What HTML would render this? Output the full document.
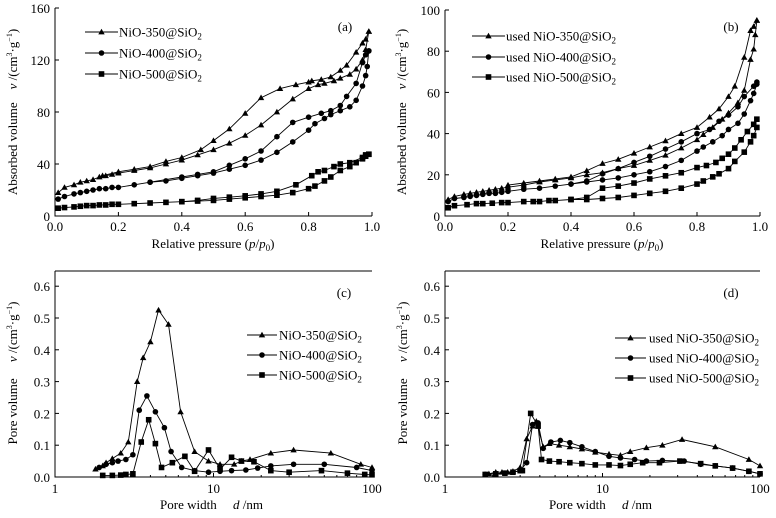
<!DOCTYPE html>
<html><head><meta charset="utf-8"><style>
body{margin:0;background:#fff;}
svg{display:block;font-family:"Liberation Serif",serif;}
</style></head><body>
<svg id="s" width="776" height="518" viewBox="0 0 776 518" xmlns="http://www.w3.org/2000/svg"></svg>
<script>
const S=document.getElementById('s');let h='';
function P(pts,fx,fy){return pts.map(p=>fx(p[0]).toFixed(1)+','+fy(p[1]).toFixed(1)).join(' ');}
function mk(type,x,y){
 if(type==0)return `<polygon points="${x},${y-3.2} ${x-3.2},${y+2.4} ${x+3.2},${y+2.4}" fill="#000"/>`;
 if(type==1)return `<circle cx="${x}" cy="${y}" r="2.8" fill="#000"/>`;
 return `<rect x="${x-2.8}" y="${y-2.8}" width="5.6" height="5.6" fill="#000"/>`;}
function series(pts,fx,fy,t){h+=`<polyline points="${P(pts,fx,fy)}" fill="none" stroke="#000" stroke-width="0.9"/>`;pts.forEach(p=>h+=mk(t,fx(p[0]),fy(p[1])));}
function txt(x,y,s,a,sz){h+=`<text x="${x}" y="${y}" font-size="${sz||13}" text-anchor="${a||'middle'}">${s}</text>`;}
function leg(x0,x1,tx,ys,labels){labels.forEach((l,i)=>{h+=`<line x1="${x0}" y1="${ys[i]}" x2="${x1}" y2="${ys[i]}" stroke="#000" stroke-width="0.9"/>`;h+=mk(i,(x0+x1)/2,ys[i]);txt(tx,ys[i]+4.5,l,'start',13);});}
function axes(x0,x1,yTop,yBot,top){h+=`<polyline points="${x0},${yTop} ${x0},${yBot} ${x1},${yBot}" fill="none" stroke="#000" stroke-width="1"/>`;if(top)h+=`<line x1="${x0}" y1="${yTop}" x2="${x1}" y2="${yTop}" stroke="#000" stroke-width="1"/>`;}
const sio='@SiO<tspan font-size="9" dy="3">2</tspan>';
// Panel A
{const fx=x=>55+x*317,fy=v=>216-v*1.3;axes(55,372,8,216,false);
for(let i=0;i<=5;i++){let x=fx(i*0.2);h+=`<line x1="${x}" y1="216" x2="${x}" y2="212" stroke="#000"/>`;txt(x,231,(i*0.2).toFixed(1));}
for(let v=0;v<=160;v+=40){let y=fy(v);h+=`<line x1="55" y1="${y}" x2="59" y2="${y}" stroke="#000"/>`;txt(50,y+5,v,'end');}
series([[0.01,18],[0.03,22],[0.06,24],[0.08,26],[0.1,27],[0.12,28],[0.14,30],[0.16,31],[0.18,32],[0.2,33],[0.25,35],[0.3,37],[0.35,40],[0.4,43],[0.45,47],[0.5,51],[0.55,56],[0.6,62],[0.65,70],[0.7,80],[0.75,90],[0.8,98],[0.83,101],[0.85,102],[0.88,104],[0.9,106],[0.93,109],[0.95,113],[0.97,120],[0.98,128],[0.99,142]],fx,fy,0);
series([[0.99,142],[0.98,136],[0.97,133],[0.95,126],[0.92,116],[0.9,112],[0.87,107],[0.84,105],[0.81,104],[0.8,103],[0.76,101],[0.71,98],[0.65,91],[0.6,79],[0.55,67],[0.5,58],[0.46,51],[0.4,45],[0.35,42],[0.3,38],[0.25,36],[0.2,34],[0.15,31]],fx,fy,0);
series([[0.01,13],[0.03,15],[0.06,17],[0.08,18],[0.1,19],[0.12,20],[0.14,21],[0.16,21],[0.18,22],[0.2,22],[0.25,24],[0.3,26],[0.35,27],[0.4,29],[0.45,31],[0.5,33],[0.55,36],[0.6,39],[0.65,43],[0.7,49],[0.75,57],[0.8,66],[0.82,71],[0.85,75],[0.87,78],[0.9,81],[0.93,84],[0.95,89],[0.97,100],[0.98,108],[0.985,115],[0.99,127]],fx,fy,1);
series([[0.99,127],[0.98,124],[0.97,118],[0.95,102],[0.92,92],[0.9,85],[0.87,81],[0.84,79],[0.8,76],[0.75,72],[0.7,61],[0.65,50],[0.6,44],[0.55,39],[0.5,34],[0.45,32],[0.4,30],[0.3,26]],fx,fy,1);
series([[0.01,6],[0.03,6.5],[0.06,7],[0.08,7.5],[0.1,8],[0.12,8],[0.14,8.5],[0.16,8.5],[0.18,9],[0.2,9],[0.25,9.5],[0.3,10],[0.35,10.5],[0.4,11],[0.45,11.5],[0.5,12],[0.55,13],[0.6,14],[0.65,15],[0.7,16],[0.75,18],[0.8,21],[0.82,23],[0.85,27],[0.87,30],[0.9,35],[0.93,38],[0.95,41],[0.97,44],[0.98,46],[0.99,47.5]],fx,fy,2);
series([[0.99,47.5],[0.98,47],[0.97,45],[0.93,41],[0.9,40],[0.88,38],[0.85,35],[0.83,34],[0.81,31],[0.76,24],[0.7,19],[0.65,17],[0.6,15.5],[0.55,14.5],[0.5,13.5],[0.45,12],[0.4,11]],fx,fy,2);
leg(85,118,119,[32,53,74],['NiO-350'+sio,'NiO-400'+sio,'NiO-500'+sio]);
txt(345,31,'(a)');
txt(213,248,'Relative pressure  (<tspan font-style="italic">p</tspan>/<tspan font-style="italic">p</tspan><tspan font-size="9" dy="3">0</tspan><tspan dy="-3">)</tspan>');
h+=`<text transform="translate(17,112) rotate(-90)" font-size="13" text-anchor="middle">Absorbed volume &#160;&#160; <tspan font-style="italic">v</tspan> /(cm<tspan font-size="8" dy="-5">3</tspan><tspan dy="5">·g</tspan><tspan font-size="8" dy="-5">−1</tspan><tspan dy="5">)</tspan></text>`;}
// Panel B
{const fx=x=>445+x*315,fy=v=>216-v*2.06;axes(445,760,10,216,false);
for(let i=0;i<=5;i++){let x=fx(i*0.2);h+=`<line x1="${x}" y1="216" x2="${x}" y2="212" stroke="#000"/>`;txt(x,231,(i*0.2).toFixed(1));}
for(let v=0;v<=100;v+=20){let y=fy(v);h+=`<line x1="445" y1="${y}" x2="449" y2="${y}" stroke="#000"/>`;txt(440,y+5,v,'end');}
series([[0.01,8],[0.03,9.5],[0.06,10.5],[0.08,11],[0.1,11.5],[0.12,12],[0.14,12.5],[0.16,13],[0.18,13.5],[0.2,14],[0.25,15],[0.3,16.5],[0.35,17.5],[0.4,18.5],[0.45,20],[0.5,21],[0.55,23],[0.6,24.5],[0.65,27],[0.7,29.5],[0.75,33],[0.8,37],[0.82,39.5],[0.85,43],[0.88,47],[0.9,50],[0.93,55],[0.95,61],[0.97,76],[0.98,81],[0.985,88],[0.99,95]],fx,fy,0);
series([[0.99,95],[0.98,92],[0.97,90],[0.95,77],[0.92,63],[0.9,58],[0.87,52],[0.84,48],[0.8,43],[0.75,40],[0.7,36.5],[0.65,33.5],[0.6,30.5],[0.55,27.5],[0.5,25.5],[0.45,22],[0.4,19],[0.35,18],[0.3,17],[0.25,16],[0.2,15]],fx,fy,0);
series([[0.01,7],[0.03,8.5],[0.06,9],[0.08,9.5],[0.1,10],[0.12,10.5],[0.14,11],[0.16,11],[0.18,11.5],[0.2,12],[0.25,13],[0.3,13.5],[0.35,14.5],[0.4,15.5],[0.45,16.5],[0.5,17.5],[0.55,18.5],[0.6,20],[0.65,21.5],[0.7,24],[0.75,27],[0.8,31.5],[0.82,33.5],[0.85,36],[0.88,39],[0.9,42],[0.93,45],[0.95,49.5],[0.97,56],[0.98,59.5],[0.99,64]],fx,fy,1);
series([[0.99,65],[0.98,63],[0.95,58],[0.93,53],[0.9,49],[0.87,46],[0.84,42],[0.8,40],[0.75,36],[0.7,32.5],[0.65,29],[0.6,26],[0.55,23],[0.5,20.5],[0.45,17],[0.4,15.5]],fx,fy,1);
series([[0.01,4],[0.03,5],[0.07,5.5],[0.1,6],[0.12,6],[0.15,6.2],[0.18,6.5],[0.2,6.5],[0.25,7],[0.28,7],[0.3,7],[0.33,7.5],[0.35,7.5],[0.4,8],[0.45,8],[0.5,8.5],[0.55,9],[0.6,10],[0.65,11],[0.7,12],[0.75,13.5],[0.8,15.5],[0.82,17],[0.85,19],[0.87,20.5],[0.9,23],[0.92,26.5],[0.95,31],[0.97,36],[0.98,39],[0.99,43]],fx,fy,2);
series([[0.99,47],[0.98,44.5],[0.96,41],[0.94,37],[0.92,33],[0.9,30],[0.88,28],[0.86,26],[0.83,24.5],[0.8,23.5],[0.75,21],[0.7,19.5],[0.65,18],[0.6,16],[0.55,14.5],[0.5,13.5],[0.45,9],[0.4,8]],fx,fy,2);
leg(472,505,506,[36,57,77],['used NiO-350'+sio,'used NiO-400'+sio,'used NiO-500'+sio]);
txt(731,31,'(b)');
txt(602,248,'Relative pressure  (<tspan font-style="italic">p</tspan>/<tspan font-style="italic">p</tspan><tspan font-size="9" dy="3">0</tspan><tspan dy="-3">)</tspan>');
h+=`<text transform="translate(406,112) rotate(-90)" font-size="13" text-anchor="middle">Absorbed volume &#160;&#160; <tspan font-style="italic">v</tspan> /(cm<tspan font-size="8" dy="-5">3</tspan><tspan dy="5">·g</tspan><tspan font-size="8" dy="-5">−1</tspan><tspan dy="5">)</tspan></text>`;}
// Panels C, D
function logPanel(x0,dec,isD,data,labels,legPos,tag){
 const fx=d=>x0+Math.log10(d)*dec,fy=v=>477-v*318;axes(x0,x0+2*dec,271,477,true);
 [1,10,100].forEach(d=>{let x=fx(d);h+=`<line x1="${x}" y1="477" x2="${x}" y2="473" stroke="#000"/>`;txt(x,493,d);});
 for(let d=2;d<100;d++){if(d%10==0&&d>10)continue;if(d>10&&d%10)continue;if(d==10)continue;let x=fx(d);h+=`<line x1="${x}" y1="477" x2="${x}" y2="475" stroke="#000"/>`;}
 for(let d=20;d<100;d+=10){let x=fx(d);h+=`<line x1="${x}" y1="477" x2="${x}" y2="475" stroke="#000"/>`;}
 for(let i=0;i<=6;i++){let y=fy(i/10);h+=`<line x1="${x0}" y1="${y}" x2="${x0+4}" y2="${y}" stroke="#000"/>`;txt(x0-5,y+5,(i/10).toFixed(1),'end');}
 data.forEach((d,i)=>series(d,fx,fy,i));
 leg(legPos[0],legPos[1],legPos[2],legPos[3],labels);
 txt(tag[1],tag[2],tag[0]);
 txt(x0+dec-2,509,'Pore width &#160;&#160;&#160; <tspan font-style="italic">d</tspan> /nm');
 h+=`<text transform="translate(${x0-38},373) rotate(-90)" font-size="13" text-anchor="middle">Pore volume &#160;&#160;&#160; <tspan font-style="italic">v</tspan> /(cm<tspan font-size="8" dy="-5">3</tspan><tspan dy="5">·g</tspan><tspan font-size="8" dy="-5">−1</tspan><tspan dy="5">)</tspan></text>`;
}
logPanel(55,158.5,false,[
[[1.8,0.025],[2,0.035],[2.1,0.045],[2.3,0.058],[2.6,0.075],[2.9,0.11],[3.3,0.30],[3.6,0.375],[4,0.425],[4.5,0.525],[5.2,0.48],[6.2,0.205],[7.6,0.08],[9.3,0.05],[11,0.04],[13.5,0.04],[15,0.05],[17,0.055],[23,0.075],[32,0.085],[55,0.075],[85,0.04],[100,0.03]],
[[1.9,0.03],[2.1,0.04],[2.3,0.045],[2.5,0.05],[2.8,0.055],[3.1,0.07],[3.4,0.21],[3.8,0.255],[4.3,0.205],[4.9,0.155],[5.4,0.08],[6.3,0.03],[7.6,0.02],[9.3,0.015],[11,0.018],[13,0.02],[16,0.022],[19,0.028],[23,0.035],[32,0.04],[50,0.04],[80,0.03],[100,0.02]],
[[2,0.005],[2.3,0.005],[2.6,0.006],[2.8,0.008],[3.1,0.01],[3.5,0.11],[3.9,0.18],[4.3,0.105],[4.7,0.03],[5.5,0.045],[6.6,0.065],[7.6,0.018],[9.3,0.085],[11,0.025],[13,0.062],[15,0.05],[18,0.048],[23,0.02],[30,0.015],[48,0.02],[70,0.012],[90,0.008],[100,0.007]]
],['NiO-350'+sio,'NiO-400'+sio,'NiO-500'+sio],[247,277,279,[335,355,375]],['(c)',344,297]);
logPanel(445,157.5,true,[
[[1.9,0.01],[2.1,0.015],[2.3,0.015],[2.5,0.015],[2.7,0.018],[3,0.03],[3.3,0.12],[3.6,0.16],[3.8,0.175],[4.2,0.095],[4.6,0.105],[5.3,0.1],[6.2,0.095],[7.4,0.088],[9,0.078],[11,0.072],[13,0.068],[15,0.08],[19,0.092],[24,0.1],[32,0.118],[52,0.095],[85,0.055],[100,0.035]],
[[1.8,0.008],[2.1,0.01],[2.4,0.012],[2.7,0.015],[3,0.02],[3.3,0.045],[3.6,0.165],[3.9,0.17],[4.2,0.09],[4.7,0.11],[5.4,0.115],[6.2,0.108],[7.4,0.095],[9,0.08],[11,0.065],[13,0.06],[16,0.055],[19,0.05],[24,0.052],[33,0.05],[42,0.04],[52,0.035],[67,0.028],[85,0.018],[100,0.01]],
[[1.8,0.008],[2.1,0.01],[2.4,0.012],[2.7,0.015],[3,0.02],[3.1,0.02],[3.5,0.2],[3.9,0.16],[4.1,0.055],[4.6,0.05],[5.3,0.048],[6.2,0.045],[7.4,0.042],[9,0.038],[11,0.038],[13,0.036],[15,0.04],[18,0.045],[23,0.045],[31,0.05],[42,0.042],[52,0.035],[67,0.028],[85,0.018],[100,0.01]]
],['used NiO-350'+sio,'used NiO-400'+sio,'used NiO-500'+sio],[615,646,649,[338,358,378]],['(d)',731,297]);
S.innerHTML=h;
</script>
</body></html>
